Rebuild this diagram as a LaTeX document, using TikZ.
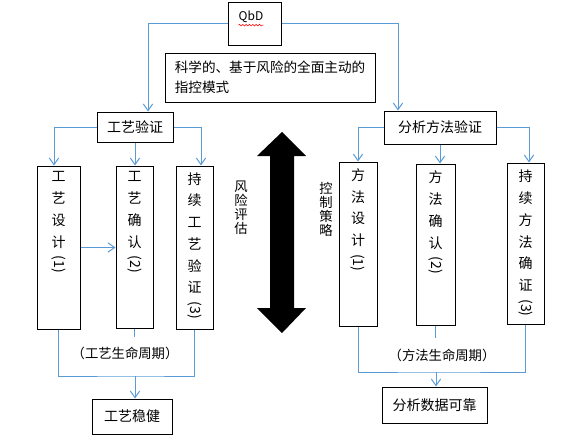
\documentclass[tikz,border=0pt]{standalone}
\usepackage{fontspec}
\newfontfamily\cjk{Noto Sans CJK SC}
\usetikzlibrary{arrows.meta,decorations.pathmorphing}
\definecolor{wireblue}{RGB}{91,155,213}
\newcommand\sidenum[1]{\rotatebox[origin=c]{-90}{(#1)}}

\begin{document}
\begin{tikzpicture}[x=0.75pt, y=-0.75pt,
  box/.style={draw, line width=0.75pt, inner sep=0pt, font=\cjk\fontsize{10.5}{13}\selectfont},
  wire/.style={draw=wireblue, line width=0.75pt},
  link/.style={wire, -{Straight Barb[length=5pt,width=7pt]}},
  vtext/.style={font=\cjk\fontsize{10.5}{16.3}\selectfont, align=center, inner sep=0pt, anchor=north},
  side/.style={font=\cjk\fontsize{10}{10.5}\selectfont, align=center, inner sep=0pt},
  life/.style={font=\cjk\fontsize{10}{12}\selectfont, inner sep=0pt}]
  \useasboundingbox (0,0) rectangle (584,446);

  % top
  \node[box, minimum width=39.75pt, minimum height=32.25pt] (qbd) at (254.5,23.5) {};
  \node[font=\cjk\fontsize{9}{11}\selectfont, inner sep=0pt] (qbdtxt) at (251,17) {QbD};
  \draw[red, line width=0.4pt, decorate, decoration={snake, amplitude=0.6pt, segment length=2.5pt}]
    ([shift={(0,2)}]qbdtxt.south west) -- ([shift={(0,2)}]qbdtxt.south east);
  \node[box, align=left, minimum width=157.5pt, minimum height=36.75pt, font=\cjk\fontsize{10.2}{15}\selectfont] (desc) at (270,77.5)
    {科学的、基于风险的全面主动的\\指控模式};

  \node[box, minimum width=57pt, minimum height=22.5pt] (proc) at (135,127) {工艺验证};
  \node[box, minimum width=84pt, minimum height=24.75pt] (meth) at (440,127.5) {分析方法验证};

  % stages
  \node[box, minimum width=32.25pt, minimum height=122.25pt] (pd) at (58.5,247.5) {};
  \node[box, minimum width=27.75pt, minimum height=121.5pt] (pc) at (134.5,247) {};
  \node[box, minimum width=27.75pt, minimum height=122.25pt] (pv) at (194.5,247.5) {};
  \node[box, minimum width=28.5pt, minimum height=123pt] (md) at (358,244) {};
  \node[box, minimum width=29.25pt, minimum height=120.75pt] (mc) at (435.5,244.5) {};
  \node[box, minimum width=27.75pt, minimum height=120.75pt] (mv) at (525.5,243.5) {};

  \node[vtext] (pdtxt) at ([yshift=-4.5pt]pd.north) {工\\艺\\设\\计\\\sidenum{1}};
  \node[vtext] (pctxt) at ([yshift=-4.5pt]pc.north) {工\\艺\\确\\认\\\sidenum{2}};
  \node[vtext] (pvtxt) at ([yshift=-5pt]pv.north) {持\\续\\工\\艺\\验\\证\\\sidenum{3}};
  \node[vtext] (mdtxt) at ([yshift=-5pt]md.north) {方\\法\\设\\计\\\sidenum{1}};
  \node[vtext] (mctxt) at ([yshift=-5.5pt]mc.north) {方\\法\\确\\认\\\sidenum{2}};
  \node[vtext] (mvtxt) at ([yshift=-5.5pt]mv.north) {持\\续\\方\\法\\确\\证\\\sidenum{3}};

  % middle
  \fill (282,132) -- (306,156) -- (294,156) -- (294,308) -- (306,308) -- (282,333)
    -- (257,308) -- (270,308) -- (270,156) -- (257,156) -- cycle;
  \node[side] (risk) at (241,208) {风\\险\\评\\估};
  \node[side] (ctrl) at (326,209) {控\\制\\策\\略};

  % bottom
  \node[life] (plife) at (125,353) {（工艺生命周期）};
  \node[life] (mlife) at (442,355) {（方法生命周期）};
  \node[box, minimum width=60pt, minimum height=26.25pt] (robust) at (132,416.5) {工艺稳健};
  \node[box, minimum width=78.75pt, minimum height=27pt] (reliab) at (434.5,405) {分析数据可靠};

  \coordinate (lbus) at (135,376);
  \coordinate (lstub) at (134.5,337);
  \coordinate (rbus) at (436,372);
  \coordinate (rstub) at (435.5,338);

  % connectors
  \draw[link] (qbd.west) -| ([shift={(13,0)}]proc.north);
  \draw[link] (qbd.east) -| ([shift={(-42,0)}]meth.north);
  \draw[link] (proc.west) -| ([shift={(-4.5,0)}]pd.north);
  \draw[link] (proc.east) -| ([shift={(6.5,0)}]pv.north);
  \draw[link] (proc.south) -- (proc.south |- pc.north);
  \draw[link] (meth.west) -| (md.north);
  \draw[link] (meth.east) -| ([shift={(3.5,0)}]mv.north);
  \draw[link] (meth.south) -- (meth.south |- mc.north);
  \draw[link] (pd.east) -- (pd.east -| pc.west);

  \draw[wire] (pd.south) |- (lbus) -| (pv.south);
  \draw[wire] (pc.south) -- (lstub);
  \draw[link] (lbus) -- (lbus |- robust.north);
  \draw[wire] (md.south) |- (rbus) -| (mv.south);
  \draw[wire] (mc.south) -- (rstub);
  \draw[link] (rbus) -- (rbus |- reliab.north);
\end{tikzpicture}
\end{document}
